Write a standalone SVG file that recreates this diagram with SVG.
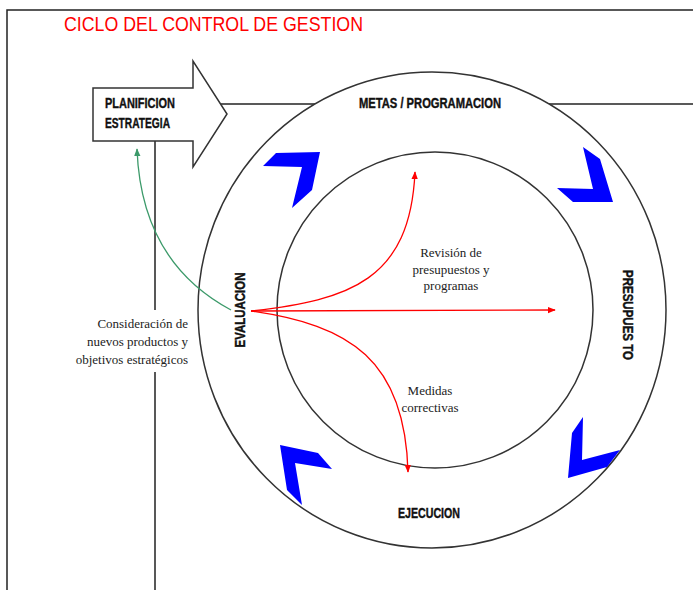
<svg xmlns="http://www.w3.org/2000/svg" width="693" height="590" viewBox="0 0 693 590">
<defs>
<style>
.frame{fill:none;stroke:#222;stroke-width:1.5}
.ring{fill:#fff;stroke:#333;stroke-width:1.5}
.chev{fill:#0000ff;stroke:none}
.lbl{font-family:"Liberation Sans Narrow","Liberation Sans",Arial,sans-serif;font-weight:bold;fill:#111;stroke:#111;stroke-width:0.4}
.note{font-family:"Liberation Serif","Times New Roman",serif;font-size:13px;fill:#222}
.red{fill:none;stroke:#ff0000;stroke-width:1.3}
.green{fill:none;stroke:#3c9a6a;stroke-width:1.3}
</style>
<marker id="ahr" viewBox="0 0 10 10" refX="9" refY="5" markerWidth="8" markerHeight="8" markerUnits="userSpaceOnUse" orient="auto"><path d="M0,1 L10,5 L0,9 Z" fill="#ff0000"/></marker>
<marker id="ahg" viewBox="0 0 10 10" refX="9" refY="5" markerWidth="8" markerHeight="8" markerUnits="userSpaceOnUse" orient="auto"><path d="M0,1 L10,5 L0,9 Z" fill="#3c9a6a"/></marker>
</defs>
<rect width="693" height="590" fill="#fff"/>
<g id="frame">
<path class="frame" d="M7,590 L7,10 L693,10"/>
<path class="frame" d="M221,104 L693,104"/>
<path class="frame" d="M155,141 L155,310 M155,372 L155,590"/>
</g>
<text x="64" y="31" font-family="'Liberation Sans Narrow','Liberation Sans',Arial,sans-serif" font-size="21" fill="#ff0000" textLength="299" lengthAdjust="spacingAndGlyphs">CICLO DEL CONTROL DE GESTION</text>
<g id="rings">
<ellipse class="ring" cx="432" cy="310" rx="234" ry="238"/>
<circle class="ring" cx="435" cy="310" r="158"/>
</g>
<g id="planificacion">
<polygon points="93,88 193,88 193,61 227,114 193,167 193,141 93,141" fill="#fff" stroke="#333" stroke-width="1.5"/>
<text class="lbl" x="105" y="108" font-size="15" textLength="70" lengthAdjust="spacingAndGlyphs">PLANIFICION</text>
<text class="lbl" x="105" y="128" font-size="15" textLength="65" lengthAdjust="spacingAndGlyphs">ESTRATEGIA</text>
</g>
<g id="chevrons">
<polygon class="chev" points="263,166 276,153 320,152 312,190 292,208 302,167"/>
<polygon class="chev" points="583,147 600,159 613,202 573,202 557,188 593,189"/>
<polygon class="chev" points="583,417 572,433 568,478 607,467 620,450 582,460"/>
<polygon class="chev" points="280,445 318,453 332,469 295,463 302,505 287,490"/>
</g>
<g id="connectors">
<path class="green" d="M231,310 C175,280 140,230 137,149" marker-end="url(#ahg)"/>
<path class="red" d="M251,311 C350,300 410,280 415,172" marker-end="url(#ahr)"/>
<path class="red" d="M251,311 L555,310" marker-end="url(#ahr)"/>
<path class="red" d="M251,311 C350,325 405,360 408,472" marker-end="url(#ahr)"/>
</g>
<g id="metas"><text class="lbl" x="430" y="108" font-size="14" text-anchor="middle" textLength="142" lengthAdjust="spacingAndGlyphs">METAS / PROGRAMACION</text></g>
<g id="presupuesto"><text class="lbl" transform="translate(623,315) rotate(90)" x="0" y="0" font-size="14" text-anchor="middle" textLength="90" lengthAdjust="spacingAndGlyphs">PRESUPUES TO</text></g>
<g id="ejecucion"><text class="lbl" x="429" y="518" font-size="14" text-anchor="middle" textLength="62" lengthAdjust="spacingAndGlyphs">EJECUCION</text></g>
<g id="evaluacion"><text class="lbl" transform="translate(245,310) rotate(-90)" x="0" y="0" font-size="14" text-anchor="middle" textLength="75" lengthAdjust="spacingAndGlyphs">EVALUACION</text></g>
<g id="revision" class="note">
<text x="451" y="257" text-anchor="middle">Revisión de</text>
<text x="451" y="274" text-anchor="middle">presupuestos y</text>
<text x="451" y="290" text-anchor="middle">programas</text>
</g>
<g id="medidas" class="note">
<text x="430" y="395" text-anchor="middle">Medidas</text>
<text x="430" y="412" text-anchor="middle">correctivas</text>
</g>
<g id="consideracion" class="note">
<text x="188" y="328" text-anchor="end">Consideración de</text>
<text x="188" y="346" text-anchor="end">nuevos productos y</text>
<text x="188" y="364" text-anchor="end">objetivos estratégicos</text>
</g>
</svg>
